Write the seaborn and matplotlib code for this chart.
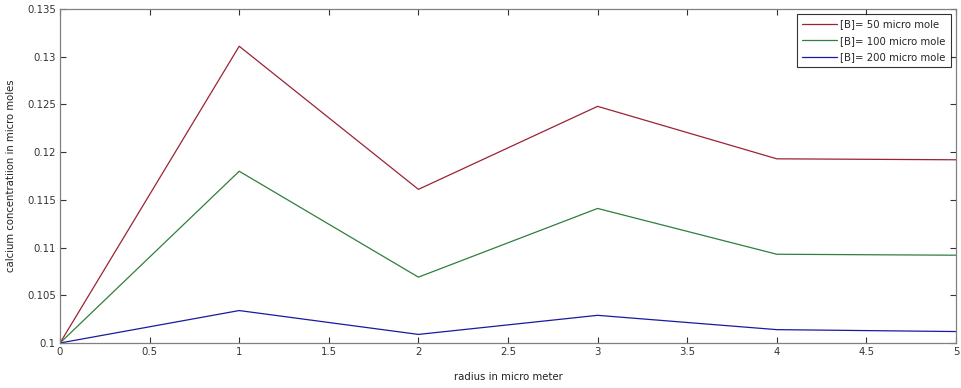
import matplotlib
matplotlib.use("Agg")
import matplotlib.pyplot as plt
import seaborn as sns
import pandas as pd

radius = [0, 1, 2, 3, 4, 5]
b50 = [0.1, 0.1311, 0.1161, 0.1248, 0.1193, 0.1192]
b100 = [0.1, 0.1180, 0.1069, 0.1141, 0.1093, 0.1092]
b200 = [0.1, 0.1034, 0.1009, 0.1029, 0.1014, 0.1012]
labels = ["[B]= 50 micro mole", "[B]= 100 micro mole", "[B]= 200 micro mole"]
colors = ["#9b2335", "#2f7f3f", "#1a1aa0"]

df = pd.DataFrame({"radius": radius * 3,
                   "value": b50 + b100 + b200,
                   "series": [labels[0]] * 6 + [labels[1]] * 6 + [labels[2]] * 6})

sns.set_theme(style="ticks")
plt.rcParams['font.family'] = ['DejaVu Sans']

fig = plt.figure(figsize=(9.62, 3.88), dpi=100)
ax = fig.add_axes([60 / 962, 1 - 343 / 388, (956 - 60) / 962, (343 - 9) / 388])
sns.lineplot(data=df, x="radius", y="value", hue="series", palette=colors,
             linewidth=0.9, ax=ax, legend=True)

ax.set_xlim(0, 5)
ax.set_ylim(0.1, 0.135)
ax.set_xticks([0, 0.5, 1, 1.5, 2, 2.5, 3, 3.5, 4, 4.5, 5])
ax.set_xticklabels(["0", "0.5", "1", "1.5", "2", "2.5", "3", "3.5", "4", "4.5", "5"])
ax.set_yticks([0.1, 0.105, 0.11, 0.115, 0.12, 0.125, 0.13, 0.135])
ax.set_yticklabels(["0.1", "0.105", "0.11", "0.115", "0.12", "0.125", "0.13", "0.135"])
ax.tick_params(direction="in", top=True, right=True, labelsize=7.3, length=4,
               width=0.8, colors="#333333", pad=3)
for s in ax.spines.values():
    s.set_visible(True)
    s.set_color("#808080")
    s.set_linewidth(0.9)
ax.set_xlabel("radius in micro meter", fontsize=7.3, labelpad=11, color="#222222")
ax.set_ylabel("calcium concentratiion in micro moles", fontsize=7.3, labelpad=8, color="#222222")

leg = ax.legend(loc="upper right", fontsize=7.3, frameon=True, fancybox=False,
                edgecolor="black", handlelength=3.5, borderpad=0.5,
                labelspacing=0.65, borderaxespad=0.5, handletextpad=0.3)
leg.get_frame().set_linewidth(0.8)

fig.savefig("out.png", dpi=100)
